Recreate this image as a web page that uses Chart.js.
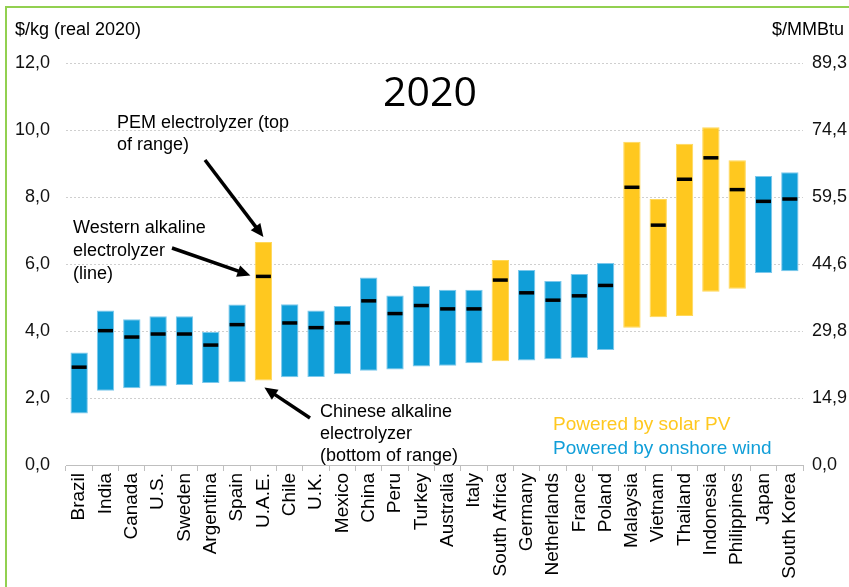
<!DOCTYPE html>
<html>
<head>
<meta charset="utf-8">
<script src="https://cdn.jsdelivr.net/npm/chart.js@4/dist/chart.umd.min.js"></script>
<style>
  body { margin: 0; background: #fff; }
  canvas { display: block; }
</style>
</head>
<body>
<canvas id="h2Canvas" width="849" height="587"></canvas>
<script>
// Hydrogen production cost ranges by country, 2020
var countries = ['Brazil', 'India', 'Canada', 'U.S.', 'Sweden', 'Argentina', 'Spain', 'U.A.E.', 'Chile', 'U.K.',
    'Mexico', 'China', 'Peru', 'Turkey', 'Australia', 'Italy', 'South Africa', 'Germany', 'Netherlands', 'France',
    'Poland', 'Malaysia', 'Vietnam', 'Thailand', 'Indonesia', 'Philippines', 'Japan', 'South Korea'];
var power = ['wind', 'wind', 'wind', 'wind', 'wind', 'wind', 'wind', 'solar', 'wind', 'wind',
    'wind', 'wind', 'wind', 'wind', 'wind', 'wind', 'solar', 'wind', 'wind', 'wind',
    'wind', 'solar', 'solar', 'solar', 'solar', 'solar', 'wind', 'wind'];
// Chinese alkaline (bottom of range)
var lowCost = [1.54, 2.22, 2.29, 2.34, 2.39, 2.45, 2.47, 2.52, 2.62, 2.63,
    2.71, 2.81, 2.85, 2.94, 2.96, 3.04, 3.10, 3.12, 3.16, 3.19,
    3.43, 4.10, 4.41, 4.45, 5.17, 5.26, 5.73, 5.78];
// PEM (top of range)
var highCost = [3.36, 4.61, 4.35, 4.44, 4.44, 3.98, 4.79, 6.66, 4.80, 4.61,
    4.75, 5.60, 5.06, 5.35, 5.23, 5.23, 6.12, 5.82, 5.49, 5.70,
    6.03, 9.65, 7.94, 9.59, 10.08, 9.10, 8.63, 8.74];
// Western alkaline (line)
var westernCost = [2.92, 4.01, 3.82, 3.91, 3.91, 3.58, 4.19, 5.63, 4.24, 4.10,
    4.24, 4.90, 4.52, 4.76, 4.66, 4.66, 5.52, 5.14, 4.92, 5.05,
    5.36, 8.29, 7.16, 8.53, 9.17, 8.22, 7.87, 7.94];
var kgTicks = ['0,0', '2,0', '4,0', '6,0', '8,0', '10,0', '12,0'];
var mmbtuTicks = ['0,0', '14,9', '29,8', '44,6', '59,5', '74,4', '89,3'];

var solarColor = '#ffc81f';
var windColor = '#109ed8';
var font = 'Liberation Sans, Arial, sans-serif';

var ranges = [];
for (i = 0; i < countries.length; i++) {
    ranges[i] = [lowCost[i], highCost[i]];
}

function arrow(ctx, x1, y1, x2, y2) {
    var ang = Math.atan2(y2 - y1, x2 - x1);
    var head = 13;
    ctx.save();
    ctx.strokeStyle = '#000';
    ctx.fillStyle = '#000';
    ctx.lineWidth = 3.5;
    ctx.beginPath();
    ctx.moveTo(x1, y1);
    ctx.lineTo(x2 - Math.cos(ang) * head * 0.8, y2 - Math.sin(ang) * head * 0.8);
    ctx.stroke();
    ctx.beginPath();
    ctx.moveTo(x2, y2);
    ctx.lineTo(x2 - head * Math.cos(ang) + 6 * Math.sin(ang), y2 - head * Math.sin(ang) - 6 * Math.cos(ang));
    ctx.lineTo(x2 - head * Math.cos(ang) - 6 * Math.sin(ang), y2 - head * Math.sin(ang) + 6 * Math.cos(ang));
    ctx.closePath();
    ctx.fill();
    ctx.restore();
}

function lines(ctx, text, x, y, step) {
    for (var k = 0; k < text.length; k++) {
        ctx.fillText(text[k], x, y + k * step);
    }
}

var decorations = {
    id: 'decorations',
    afterDraw: function (chart) {
        var ctx = chart.ctx;
        var xs = chart.scales.x, ys = chart.scales.y;
        ctx.save();
        // frame
        ctx.strokeStyle = '#92d050';
        ctx.lineWidth = 2;
        ctx.beginPath();
        ctx.moveTo(6, 600);
        ctx.lineTo(6, 7);
        ctx.lineTo(860, 7);
        ctx.stroke();

        ctx.fillStyle = '#000';
        ctx.textBaseline = 'middle';
        ctx.font = '18px ' + font;
        ctx.textAlign = 'left';
        ctx.fillText('$/kg (real 2020)', 15, 30);
        ctx.textAlign = 'right';
        ctx.fillText('$/MMBtu', 844, 30);

        ctx.textAlign = 'center';
        ctx.font = '41px Open Sans, sans-serif';
        ctx.fillText('2020', 430, 94);

        // notes pointing at the U.A.E. range
        var u = countries.indexOf('U.A.E.');
        var ux = xs.getPixelForValue(u);
        ctx.textAlign = 'left';
        ctx.font = '18px ' + font;
        lines(ctx, ['PEM electrolyzer (top', 'of range)'], 117, 123, 22);
        lines(ctx, ['Western alkaline', 'electrolyzer', '(line)'], 73, 228, 23);
        lines(ctx, ['Chinese alkaline', 'electrolyzer', '(bottom of range)'], 320, 412, 22);
        arrow(ctx, 205, 160, ux, ys.getPixelForValue(highCost[u]) - 5);
        arrow(ctx, 172, 248, ux - 13, ys.getPixelForValue(westernCost[u]) - 1);
        arrow(ctx, 310, 418, ux + 1, ys.getPixelForValue(lowCost[u]) + 7);

        ctx.font = '19px ' + font;
        ctx.fillStyle = solarColor;
        ctx.fillText('Powered by solar PV', 553, 425);
        ctx.fillStyle = windColor;
        ctx.fillText('Powered by onshore wind', 553, 449);
        ctx.restore();
    }
};

var ctx = document.getElementById('h2Canvas').getContext('2d');
window.h2Chart = new Chart(ctx, {
    type: 'bar',
    data: {
        labels: countries,
        datasets: [{
            type: 'line',
            label: 'Western alkaline',
            data: westernCost,
            showLine: false,
            pointStyle: 'line',
            pointRadius: 7.5,
            pointHoverRadius: 7.5,
            pointBorderWidth: 3.5,
            pointBorderColor: '#000',
            borderColor: '#000',
            order: 0
        }, {
            label: 'Cost range',
            data: ranges,
            backgroundColor: power.map(function (p) { return p === 'solar' ? solarColor : windColor; }),
            borderColor: power.map(function (p) { return p === 'solar' ? '#ffd85a' : '#7cc8ec'; }),
            borderWidth: 1,
            borderSkipped: false,
            barPercentage: 0.66,
            categoryPercentage: 1,
            order: 1
        }]
    },
    options: {
        responsive: false,
        animation: false,
        layout: { padding: { top: 63, left: 0, right: 0, bottom: 0 } },
        plugins: {
            legend: { display: false },
            tooltip: { enabled: false }
        },
        scales: {
            x: {
                grid: { display: true, drawOnChartArea: false, drawTicks: true, tickLength: 6, color: '#bfbfbf' },
                border: { color: '#bfbfbf' },
                ticks: {
                    color: '#000',
                    font: { family: font, size: 19 },
                    minRotation: 90,
                    maxRotation: 90,
                    autoSkip: false,
                    padding: 2
                },
                afterFit: function (scale) { scale.height = 122; }
            },
            y: {
                min: 0,
                max: 12,
                ticks: {
                    stepSize: 2,
                    padding: 16,
                    color: '#111',
                    font: { family: font, size: 18 },
                    callback: function (value, index) { return kgTicks[index]; }
                },
                grid: {
                    drawTicks: false,
                    color: function (c) { return c.tick && c.tick.value === 0 ? 'rgba(0,0,0,0)' : '#cfcfcf'; }
                },
                border: { display: false, dash: [2, 2] },
                afterFit: function (scale) { scale.width = 66; }
            },
            y2: {
                position: 'right',
                min: 0,
                max: 12,
                ticks: {
                    stepSize: 2,
                    padding: 9,
                    color: '#111',
                    font: { family: font, size: 18 },
                    callback: function (value, index) { return mmbtuTicks[index]; }
                },
                grid: { drawOnChartArea: false, drawTicks: false },
                border: { display: false },
                afterFit: function (scale) { scale.width = 46; }
            }
        }
    },
    plugins: [decorations]
});
</script>
</body>
</html>
